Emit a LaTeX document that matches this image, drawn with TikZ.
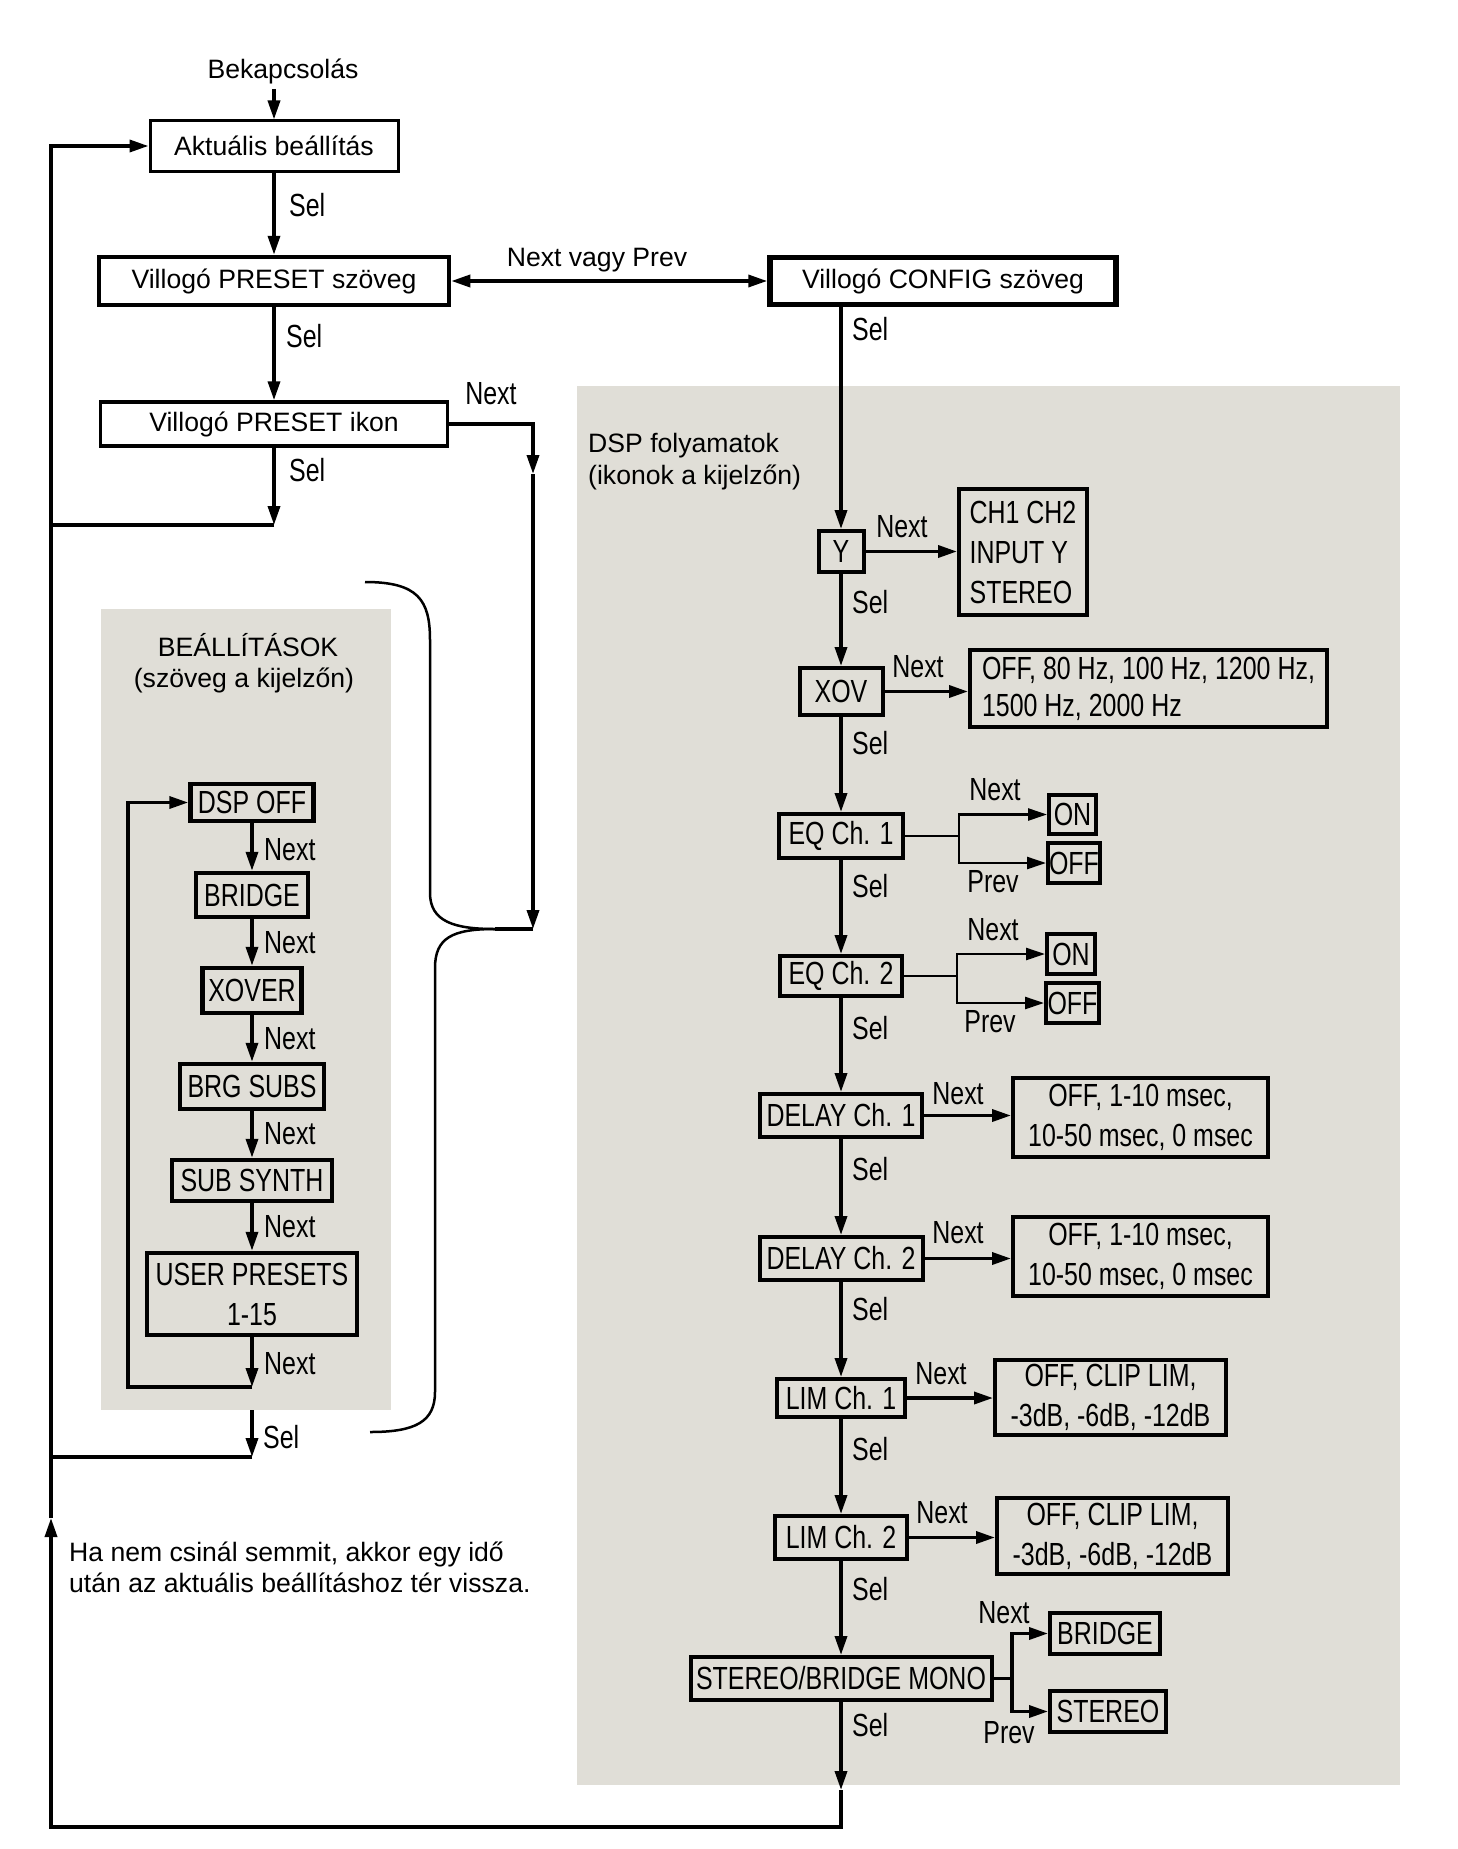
\documentclass[tikz,border=0pt]{standalone}
\usepackage{fontspec}
\setmainfont{Liberation Sans}
\newfontfamily\condf[FakeStretch=0.78]{Liberation Sans}
\usetikzlibrary{arrows.meta}
\definecolor{panelgray}{RGB}{224,222,215}
\tikzset{
  reg/.style={font=\fontsize{26.6}{32}\selectfont, inner sep=0pt},
  cnd/.style={font=\condf\fontsize{32}{40}\selectfont, inner sep=0pt},
  bx/.style={draw, line width=4pt, inner sep=0pt, cnd},
  tbx/.style={draw, inner sep=0pt, reg},
  ln/.style={line width=3.5pt},
  arr/.style={line width=3.5pt, -{Triangle[length=19pt,width=12pt]}},
  darr/.style={line width=3.5pt, {Triangle[length=19pt,width=12pt]}-{Triangle[length=19pt,width=12pt]}},
  lab/.style={cnd, anchor=west},
  bgp/.style={fill=panelgray, draw=none, inner sep=0pt},
  brace/.style={line width=2.5pt}
}
\begin{document}
\begin{tikzpicture}[x=1pt,y=-1pt]
\fill[white] (0,0) rectangle (1458,1849);
\path[use as bounding box] (0,0) rectangle (1458,1849);

% panels
\node[bgp, minimum width=823pt, minimum height=1399pt] (dspbg) at (988.5,1085.5) {};
\node[bgp, minimum width=290pt, minimum height=801pt] (setbg) at (246,1009.5) {};

% top part
\node[reg, anchor=base] (bek) at (283,78.5) {Bekapcsolás};
\node[tbx, line width=3pt, minimum width=248pt, minimum height=50pt] (A) at (274,146) {Aktuális beállítás};
\node[tbx, line width=4.5pt, minimum width=350pt, minimum height=48pt] (P) at (274,281) {Villogó PRESET szöveg};
\node[tbx, line width=3.5pt, minimum width=347pt, minimum height=44pt] (I) at (274,424) {Villogó PRESET ikon};
\node[tbx, line width=5.5pt, minimum width=346pt, minimum height=47pt] (C) at (943,281) {Villogó CONFIG szöveg};
\node[reg, anchor=base] (nvp) at (597,266.5) {Next vagy Prev};

\node[lab] (sA) at (289,205) {Sel};
\node[lab] (sP) at (286,336) {Sel};
\node[lab] (sI) at (289,470) {Sel};
\node[cnd] (nI) at (491,394) {Next};

\coordinate (bekS) at (274,89);
\draw[arr] (bekS) -- (A.north);
\draw[arr] (A.south) -- (P.north);
\draw[arr] (P.south) -- (I.north);
\draw[darr] (P.east) -- (P.east -| C.west);

% left return line
\coordinate (upTip) at (51,1518);
\coordinate (botL) at (51,1827);
\coordinate (botR) at (841,1827);
\coordinate (dspEnd) at (841,1790);
\draw[arr] (upTip) -- (A.west -| upTip) -- (A.west);

\coordinate (ik1) at (274,525);
\draw[arr] (I.south) -- (ik1);
\draw[ln] (ik1) -- (ik1 -| upTip);

% next from ikon to brace
\coordinate (nx1) at (533,424);
\coordinate (nx2) at (533,474);
\coordinate (nx3) at (533,929);
\coordinate (btip) at (495,929);
\draw[arr] (I.east) -- (nx1) -- (nx2);
\draw[arr] (nx2) -- (nx3);
\draw[ln] (nx3) -- (btip);

% brace
\draw[brace] (365,582) .. controls (418,582) and (430,600) .. (430,640) -- (430,893) .. controls (430,922) and (455,929) .. (btip);
\draw[brace] (btip) .. controls (452,929) and (435,938) .. (435,968) -- (435,1392) .. controls (435,1422) and (415,1432) .. (370,1432);

% settings panel
\node[reg, anchor=base] (bt1) at (248,656) {BEÁLLÍTÁSOK};
\node[reg, anchor=base] (bt2) at (244,687.5) {(szöveg a kijelzőn)};
\node[bx, line width=4.5pt, minimum width=123pt, minimum height=37pt] (S1) at (252,802.5) {DSP OFF};
\node[bx, line width=4.5pt, minimum width=112pt, minimum height=44pt] (S2) at (252,895) {BRIDGE};
\node[bx, line width=4.5pt, minimum width=99pt, minimum height=45pt] (S3) at (252,990.5) {XOVER};
\node[bx, line width=4.5pt, minimum width=144pt, minimum height=45pt] (S4) at (252,1086.5) {BRG SUBS};
\node[bx, line width=4.5pt, minimum width=160pt, minimum height=41pt] (S5) at (252,1180.5) {SUB SYNTH};
\node[bx, line width=4.5pt, minimum width=210pt, minimum height=82pt, align=center] (S6) at (252,1294) {USER PRESETS\\1-15};
\draw[arr] (S1.south) -- (S2.north);
\draw[arr] (S2.south) -- (S3.north);
\draw[arr] (S3.south) -- (S4.north);
\draw[arr] (S4.south) -- (S5.north);
\draw[arr] (S5.south) -- (S6.north);
\node[lab] (n1) at (264,850) {Next};
\node[lab] (n2) at (264,943) {Next};
\node[lab] (n3) at (264,1039) {Next};
\node[lab] (n4) at (264,1134) {Next};
\node[lab] (n5) at (264,1227) {Next};
\node[lab] (n6) at (264,1364) {Next};
\coordinate (u1) at (252,1387);
\coordinate (lp) at (128,1387);
\draw[arr] (S6.south) -- (u1);
\draw[arr] (u1) -- (lp) -- (lp |- S1.west) -- (S1.west);

\coordinate (ss1) at (252,1457);
\draw[arr] (setbg.south -| ss1) -- (ss1);
\draw[ln] (ss1) -- (ss1 -| upTip);
\node[lab] (sS) at (263,1437) {Sel};

% DSP panel
\node[reg, anchor=base west] (dt1) at (588,452.5) {DSP folyamatok};
\node[reg, anchor=base west] (dt2) at (588,484.5) {(ikonok a kijelzőn)};

\node[bx, minimum width=45pt, minimum height=41pt] (Y) at (841,551.5) {Y};
\node[bx, minimum width=83pt, minimum height=47pt] (XOV) at (841,691.5) {XOV};
\node[bx, minimum width=124pt, minimum height=44pt] (EQ1) at (841,836) {EQ Ch. 1};
\node[bx, minimum width=122pt, minimum height=40pt] (EQ2) at (841,976) {EQ Ch. 2};
\node[bx, minimum width=162pt, minimum height=43pt] (DL1) at (841,1115.5) {DELAY Ch. 1};
\node[bx, minimum width=163pt, minimum height=43pt] (DL2) at (841,1258.5) {DELAY Ch. 2};
\node[bx, minimum width=128pt, minimum height=38pt] (LM1) at (841,1398) {LIM Ch. 1};
\node[bx, minimum width=132pt, minimum height=43pt] (LM2) at (841,1537.5) {LIM Ch. 2};
\node[bx, minimum width=301pt, minimum height=43pt] (SBM) at (841,1678.5) {STEREO/BRIDGE MONO};

\node[bx, minimum width=128pt, minimum height=126pt, align=left] (CHv) at (1023,552) {CH1 CH2\\INPUT Y\\STEREO};
\node[bx, minimum width=357pt, minimum height=77pt, align=left, font=\condf\fontsize{32}{37}\selectfont] (XOVv) at (1148.5,688.5) {OFF, 80 Hz, 100 Hz, 1200 Hz,\\1500 Hz, 2000 Hz};
\node[bx, minimum width=47pt, minimum height=39pt] (ON1) at (1072.5,814.5) {ON};
\node[bx, minimum width=52pt, minimum height=40pt] (OFF1) at (1074,863) {OFF};
\node[bx, minimum width=48pt, minimum height=40pt] (ON2) at (1071,954) {ON};
\node[bx, minimum width=53pt, minimum height=40pt] (OFF2) at (1072.5,1003) {OFF};
\node[bx, minimum width=255pt, minimum height=79pt, align=center] (DL1v) at (1140.5,1117.5) {OFF, 1-10 msec,\\10-50 msec, 0 msec};
\node[bx, minimum width=255pt, minimum height=79pt, align=center] (DL2v) at (1140.5,1256.5) {OFF, 1-10 msec,\\10-50 msec, 0 msec};
\node[bx, minimum width=231pt, minimum height=75pt, align=center] (LM1v) at (1110.5,1397.5) {OFF, CLIP LIM,\\-3dB, -6dB, -12dB};
\node[bx, minimum width=231pt, minimum height=76pt, align=center] (LM2v) at (1112.5,1536) {OFF, CLIP LIM,\\-3dB, -6dB, -12dB};
\node[bx, minimum width=110pt, minimum height=41pt] (BRv) at (1105,1633.5) {BRIDGE};
\node[bx, minimum width=116pt, minimum height=41pt] (STv) at (1108,1711.5) {STEREO};

% vertical chain
\draw[arr] (C.south -| Y.north) -- (Y.north);
\draw[arr] (Y.south) -- (XOV.north);
\draw[arr] (XOV.south) -- (EQ1.north);
\draw[arr] (EQ1.south) -- (EQ2.north);
\draw[arr] (EQ2.south) -- (DL1.north);
\draw[arr] (DL1.south) -- (DL2.north);
\draw[arr] (DL2.south) -- (LM1.north);
\draw[arr] (LM1.south) -- (LM2.north);
\draw[arr] (LM2.south) -- (SBM.north);
\draw[arr] (SBM.south) -- (dspEnd);
\draw[arr] (dspEnd) -- (botR) -- (botL) -- (upTip);

% side arrows
\draw[arr] (Y.east) -- (Y.east -| CHv.west);
\draw[arr] (XOV.east) -- (XOV.east -| XOVv.west);
\draw[arr] (DL1.east) -- (DL1.east -| DL1v.west);
\draw[arr] (DL2.east) -- (DL2.east -| DL2v.west);
\draw[arr] (LM1.east) -- (LM1.east -| LM1v.west);
\draw[arr] (LM2.east) -- (LM2.east -| LM2v.west);

% branches
\coordinate (b1) at (959,836);
\draw[line width=2.5pt] (EQ1.east) -- (b1);
\draw[line width=2.5pt, -{Triangle[length=19pt,width=12pt]}] (b1) -- (b1 |- ON1.west) -- (ON1.west);
\draw[line width=2.5pt, -{Triangle[length=19pt,width=12pt]}] (b1) -- (b1 |- OFF1.west) -- (OFF1.west);
\coordinate (b2) at (957,976);
\draw[line width=2.5pt] (EQ2.east) -- (b2);
\draw[line width=2.5pt, -{Triangle[length=19pt,width=12pt]}] (b2) -- (b2 |- ON2.west) -- (ON2.west);
\draw[line width=2.5pt, -{Triangle[length=19pt,width=12pt]}] (b2) -- (b2 |- OFF2.west) -- (OFF2.west);
\coordinate (b3) at (1012,1678.5);
\draw[ln] (SBM.east) -- (b3);
\draw[arr] (b3) -- (b3 |- BRv.west) -- (BRv.west);
\draw[arr] (b3) -- (b3 |- STv.west) -- (STv.west);

% labels
\node[lab] at (852,329) {Sel};
\node[lab] at (852,602) {Sel};
\node[lab] at (852,743) {Sel};
\node[lab] at (852,886) {Sel};
\node[lab] at (852,1028) {Sel};
\node[lab] at (852,1169) {Sel};
\node[lab] at (852,1309) {Sel};
\node[lab] at (852,1449) {Sel};
\node[lab] at (852,1589) {Sel};
\node[lab] at (852,1725) {Sel};
\node[cnd] at (902,527) {Next};
\node[cnd] at (918,667) {Next};
\node[cnd] at (995,790) {Next};
\node[cnd] at (993,930) {Next};
\node[cnd] at (958,1094) {Next};
\node[cnd] at (958,1233) {Next};
\node[cnd] at (941,1374) {Next};
\node[cnd] at (942,1513) {Next};
\node[cnd] at (1004,1613) {Next};
\node[cnd] at (993,882) {Prev};
\node[cnd] at (990,1022) {Prev};
\node[cnd] at (1009,1733) {Prev};

% note
\node[reg, anchor=base west] (note1) at (69,1561.5) {Ha nem csinál semmit, akkor egy idő};
\node[reg, anchor=base west] (note2) at (69,1592.5) {után az aktuális beállításhoz tér vissza.};
\end{tikzpicture}
\end{document}
